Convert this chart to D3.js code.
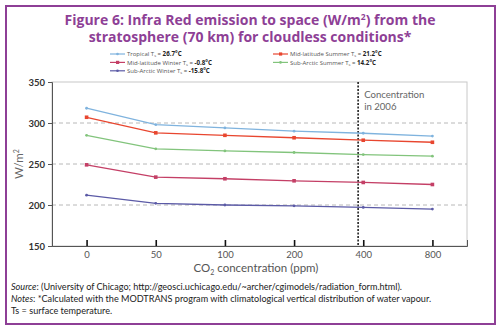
<!DOCTYPE html>
<html><head><meta charset="utf-8">
<script src="https://cdn.jsdelivr.net/npm/d3@7"></script>
<style>body{margin:0;background:#fff}svg{display:block}</style>
</head><body>
<svg id="c" width="500" height="329"></svg>
<script>
const categories = ["0","50","100","200","400","800"];
const tropical = [318, 298, 294, 290, 287.5, 284];
const midLatSummer = [307, 288, 285, 282, 279, 276.5];
const subArcticSummer = [285, 268.5, 266, 264, 261.5, 259.5];
const midLatWinter = [249, 234, 232, 229.5, 227.5, 225];
const subArcticWinter = [212, 202, 200, 199, 197, 195];
const yTicks = [150, 200, 250, 300, 350];
const gridValues = [200, 250, 300];
const seriesNames = ["Tropical", "Mid-latitude Summer", "Sub-Arctic Summer", "Mid-latitude Winter", "Sub-Arctic Winter"];
const seriesTs = ["26.7°C", "21.2°C", "14.2°C", "-0.8°C", "-15.8°C"];
const concentration2006 = 380;

const svg = d3.select("#c");
const purple = "#8e3f96";
const series = [
  {name: seriesNames[0], ts: seriesTs[0], values: tropical, color: "#7fb3de", marker: "circle"},
  {name: seriesNames[1], ts: seriesTs[1], values: midLatSummer, color: "#e8462f", marker: "square"},
  {name: seriesNames[2], ts: seriesTs[2], values: subArcticSummer, color: "#82c47c", marker: "circle"},
  {name: seriesNames[3], ts: seriesTs[3], values: midLatWinter, color: "#c43f66", marker: "square"},
  {name: seriesNames[4], ts: seriesTs[4], values: subArcticWinter, color: "#5b5aa6", marker: "circle"}
];

// frame
svg.append("rect").attr("x",6).attr("y",6).attr("width",489).attr("height",318)
  .attr("fill","none").attr("stroke",purple).attr("stroke-width",2);

// title
const title = svg.append("text").attr("text-anchor","middle").attr("fill",purple)
  .attr("font-family","'Open Sans', Lato, sans-serif").attr("font-weight","bold").attr("font-size",14);
const t1 = title.append("tspan").attr("x",250).attr("y",25).text("Figure 6: Infra Red emission to space (W/m");
t1.append("tspan").attr("font-size",8.5).attr("dy",-5).text("2");
title.append("tspan").attr("dy",5).text(") from the");
title.append("tspan").attr("x",250).attr("y",42).text("stratosphere (70 km) for cloudless conditions*");

const L = 52, R = 467, T = 82, B = 246;
const x = d3.scalePoint().domain(categories).range([L, R]).padding(0.5);
const y = d3.scaleLinear().domain([150, 350]).range([B, T]);

// plot box
svg.append("rect").attr("x",L).attr("y",T).attr("width",R-L).attr("height",B-T)
  .attr("fill","none").attr("stroke","#c8c8c8").attr("stroke-width",1);

// grid
svg.append("g").selectAll("line").data(gridValues).join("line")
  .attr("x1",L).attr("x2",R).attr("y1",d=>y(d)).attr("y2",d=>y(d))
  .attr("stroke","#b8b8b8").attr("stroke-dasharray","4,3").attr("stroke-width",1);

// y axis
const yAxis = svg.append("g").attr("transform",`translate(${L},0)`)
  .call(d3.axisLeft(y).tickValues(yTicks).tickSize(4).tickPadding(3));
yAxis.select(".domain").attr("stroke","#555");
yAxis.selectAll(".tick line").attr("stroke","#555");
yAxis.selectAll("text").attr("font-family","Lato, sans-serif").attr("font-weight","bold")
  .attr("font-size",9.5).attr("fill","#333");

// x axis (ticks inside, upward)
const xAxis = svg.append("g").attr("transform",`translate(0,${B})`)
  .call(d3.axisBottom(x).tickSize(-6).tickPadding(5));
xAxis.select(".domain").attr("stroke","#555");
xAxis.selectAll(".tick line").attr("stroke","#111").attr("stroke-width",1.6);
xAxis.selectAll("text").attr("font-family","Lato, sans-serif").attr("font-size",9.5).attr("fill","#555");

// axis titles
const xt = svg.append("text").attr("x",256).attr("y",272).attr("text-anchor","middle")
  .attr("font-family","Lato, sans-serif").attr("font-size",11.5).attr("fill","#555");
xt.append("tspan").text("CO");
xt.append("tspan").attr("font-size",7).attr("dy",3).text("2");
xt.append("tspan").attr("dy",-3).text(" concentration (ppm)");

const yt = svg.append("text").attr("transform","translate(23,164) rotate(-90)").attr("text-anchor","middle")
  .attr("font-family","Lato, sans-serif").attr("font-size",11.5).attr("fill","#666");
yt.append("tspan").text("W/m");
yt.append("tspan").attr("font-size",7).attr("dy",-4).text("2");

// 2006 line: placed between the 200 and 400 ticks on a log basis
const x200 = x("200"), x400 = x("400");
const xLine = x200 + (x400 - x200) * (Math.log(concentration2006/200)/Math.log(2));
svg.append("line").attr("x1",xLine).attr("x2",xLine).attr("y1",T).attr("y2",B)
  .attr("stroke","#222").attr("stroke-width",1.6).attr("stroke-dasharray","2,1.5");
const ct = svg.append("g").attr("font-family","Lato, sans-serif").attr("font-size",9.6).attr("fill","#666");
ct.append("text").attr("x",xLine+6).attr("y",97.5).text("Concentration");
ct.append("text").attr("x",xLine+6).attr("y",109.5).text("in 2006");

// lines
const line = d3.line().x((d,i)=>x(categories[i])).y(d=>y(d));
series.forEach(s=>{
  svg.append("path").datum(s.values).attr("d",line).attr("fill","none")
    .attr("stroke",s.color).attr("stroke-width",1.3);
  const g = svg.append("g");
  if (s.marker === "square") {
    g.selectAll("rect").data(s.values).join("rect")
      .attr("x",(d,i)=>x(categories[i])-1.8).attr("y",d=>y(d)-1.8)
      .attr("width",3.6).attr("height",3.6).attr("fill",s.color);
  } else {
    g.selectAll("circle").data(s.values).join("circle")
      .attr("cx",(d,i)=>x(categories[i])).attr("cy",d=>y(d)).attr("r",1.4).attr("fill",s.color);
  }
});

// legend
const legendPos = [[110,54],[273,54],[273,62.4],[110,62.4],[110,70.8]];
series.forEach((s,i)=>{
  const [lx,ly] = legendPos[i];
  const g = svg.append("g");
  g.append("line").attr("x1",lx).attr("x2",lx+15).attr("y1",ly).attr("y2",ly).attr("stroke",s.color).attr("stroke-width",1.2);
  if (s.marker === "square") g.append("rect").attr("x",lx+6).attr("y",ly-1.6).attr("width",3.2).attr("height",3.2).attr("fill",s.color);
  else g.append("circle").attr("cx",lx+7.5).attr("cy",ly).attr("r",1.3).attr("fill",s.color);
  const t = g.append("text").attr("x",lx+17).attr("y",ly+2.1).attr("font-family","'Open Sans', sans-serif")
    .attr("font-size",6).attr("fill","#555");
  t.append("tspan").text(s.name + " T");
  t.append("tspan").attr("font-size",4).attr("dy",1).text("s");
  t.append("tspan").attr("dy",-1).text(" = ");
  t.append("tspan").attr("font-weight","bold").attr("fill","#222").attr("font-size",6.2).text(s.ts);
});

// source & notes
const notes = svg.append("g").attr("font-family","Lato, sans-serif").attr("font-size",9.1).attr("fill","#222");
const n1 = notes.append("text").attr("x",11).attr("y",290);
n1.append("tspan").attr("font-style","italic").text("Source");
n1.append("tspan").text(": (University of Chicago; http://geosci.uchicago.edu/~archer/cgimodels/radiation_form.html).");
const n2 = notes.append("text").attr("x",11).attr("y",302);
n2.append("tspan").attr("font-style","italic").text("Notes");
n2.append("tspan").text(": *Calculated with the MODTRANS program with climatological vertical distribution of water vapour.");
notes.append("text").attr("x",11).attr("y",314).text("Ts = surface temperature.");
</script>
</body></html>
